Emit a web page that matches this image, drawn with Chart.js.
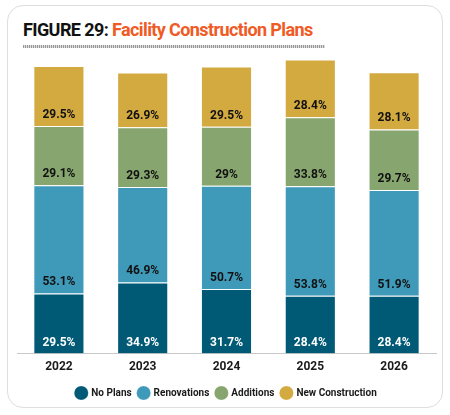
<!DOCTYPE html>
<html>
<head>
<meta charset="utf-8">
<script src="https://cdn.jsdelivr.net/npm/chart.js@4.4.0/dist/chart.umd.min.js"></script>
<style>
  body { margin: 0; background: #fff; }
  #wrap { position: relative; width: 450px; height: 415px; overflow: hidden; }
  #card { position: absolute; left: 7px; top: 5px; width: 434px; height: 401px;
          border: 1.5px solid #dedede; border-radius: 16px; }
  #title { position: absolute; left: 23px; top: 19px; font-family: Roboto, sans-serif;
           font-size: 18px; font-weight: 700; letter-spacing: -0.6px; color: #111; white-space: nowrap; }
  #title span { color: #f05a24; }
  #rule { position: absolute; left: 23px; top: 45px; width: 302px; height: 3px;
          background: repeating-linear-gradient(90deg, #999 0 1px, #ddd 1px 2px); }
  #cv { position: absolute; left: 0; top: 0; }
</style>
</head>
<body>
<div id="wrap">
  <div id="card"></div>
  <div id="title">FIGURE 29: <span>Facility Construction Plans</span></div>
  <div id="rule"></div>
  <canvas id="cv" width="450" height="415"></canvas>
</div>
<script>
const years = ["2022", "2023", "2024", "2025", "2026"];
const noPlans = [29.5, 34.9, 31.7, 28.4, 28.4];
const renovations = [53.1, 46.9, 50.7, 53.8, 51.9];
const additions = [29.1, 29.3, 29, 33.8, 29.7];
const newConstruction = [29.5, 26.9, 29.5, 28.4, 28.1];

// labels sit just above the bottom of each segment
const segmentLabels = {
    id: "segmentLabels",
    afterDatasetsDraw(chart) {
        const ctx = chart.ctx;
        ctx.save();
        ctx.font = "bold 12px Roboto";
        ctx.textAlign = "center";
        ctx.textBaseline = "middle";
        chart.data.datasets.forEach((ds, i) => {
            chart.getDatasetMeta(i).data.forEach((bar, j) => {
                ctx.fillStyle = i == 0 ? "#ffffff" : "#111111";
                ctx.fillText(ds.data[j] + "%", bar.x, bar.base - 11);
            });
        });
        ctx.restore();
    }
};

new Chart(document.getElementById("cv"), {
    type: "bar",
    data: {
        labels: years,
        datasets: [
            { label: "No Plans", data: noPlans, backgroundColor: "#005a76" },
            { label: "Renovations", data: renovations, backgroundColor: "#3f9aba" },
            { label: "Additions", data: additions, backgroundColor: "#87a56e" },
            { label: "New Construction", data: newConstruction, backgroundColor: "#d3aa40" }
        ]
    },
    options: {
        responsive: false,
        animation: false,
        datasets: {
            bar: {
                categoryPercentage: 1,
                barPercentage: 0.61,
                borderWidth: 1,
                borderColor: "rgba(255,255,255,0.18)",
                borderSkipped: "bottom"
            }
        },
        layout: { padding: { left: 17, right: 14, top: 48, bottom: 7 } },
        scales: {
            x: {
                stacked: true,
                grid: { display: false, drawTicks: false },
                border: { display: true, color: "#c8c8c8", width: 1 },
                ticks: { color: "#1a1a1a", font: { family: "Roboto", size: 12, weight: "bold" }, padding: 6 },
                afterFit(scale) { scale.height += 1; }
            },
            y: {
                stacked: true,
                display: false,
                min: 0,
                max: 150
            }
        },
        plugins: {
            legend: {
                position: "bottom",
                labels: {
                    usePointStyle: true,
                    pointStyle: "circle",
                    boxWidth: 12,
                    boxHeight: 12,
                    padding: 7,
                    color: "#1a1a1a",
                    font: { family: "Roboto", size: 10, weight: "bold" }
                }
            },
            tooltip: { enabled: false }
        }
    },
    plugins: [segmentLabels]
});
</script>
</body>
</html>
